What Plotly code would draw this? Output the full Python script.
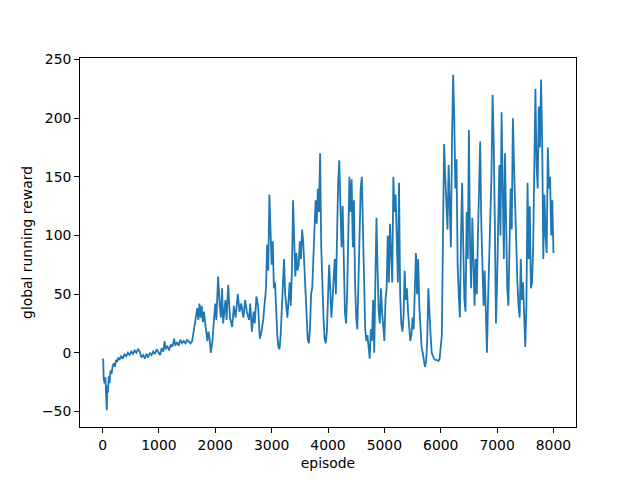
import plotly.graph_objects as go

# episode vs global running reward
episode = [
    0, 12, 20, 35, 50, 60, 75, 85, 95, 110, 125, 140, 160, 180, 200, 220, 240, 260, 280, 300,
    330, 360, 390, 420, 450, 480, 510, 540, 570, 600, 630, 660, 690, 720, 750, 780, 810, 840, 870, 900,
    930, 960, 990, 1020, 1050, 1080, 1100, 1120, 1150, 1180, 1210, 1240, 1270, 1290, 1320, 1350, 1380, 1410,
    1440, 1470, 1500, 1530, 1560, 1590, 1620, 1650,
    1680, 1700, 1720, 1740, 1760, 1780, 1800, 1830, 1860, 1880, 1900, 1920, 1950, 1980,
    2000, 2020, 2050, 2080, 2100, 2120, 2140, 2180, 2200, 2230, 2260, 2300, 2330, 2360, 2400, 2430, 2460,
    2500, 2530, 2560, 2600, 2620, 2650, 2680, 2700, 2730, 2760, 2790, 2820, 2850, 2880, 2900, 2920, 2940,
    2960, 2980, 3000, 3020, 3040, 3060, 3080, 3100, 3120, 3140, 3160, 3180, 3200, 3220, 3240, 3260, 3280,
    3300, 3320, 3340, 3360, 3380, 3400, 3420, 3440, 3460, 3480, 3500, 3520, 3540, 3560, 3580, 3600, 3620,
    3640, 3660, 3680, 3700, 3720, 3740, 3760, 3780, 3800, 3820, 3840, 3860, 3880, 3900, 3920, 3940, 3960,
    3980, 4000, 4020, 4040, 4060, 4080, 4100, 4120, 4140, 4160, 4180, 4200, 4220, 4240, 4260, 4280, 4300,
    4320, 4340, 4360, 4380, 4400, 4420, 4440, 4460, 4480, 4500, 4520, 4540, 4560, 4580, 4600, 4620, 4640,
    4660, 4680, 4700, 4720, 4740, 4760, 4780, 4800, 4820, 4840, 4860, 4880, 4900, 4920, 4940, 4960, 4980,
    5000, 5020, 5040, 5060, 5080, 5100, 5120, 5140, 5160, 5180, 5200, 5220, 5240, 5260, 5280, 5300, 5320,
    5340, 5360, 5380, 5400, 5420, 5440, 5460, 5480, 5500, 5520, 5540, 5560, 5580, 5600, 5620, 5640, 5660,
    5680, 5700, 5720, 5740, 5760, 5780, 5800, 5820, 5840, 5860, 5880, 5900, 5920, 5960, 5980, 6000, 6020,
    6040, 6060, 6080, 6100, 6120, 6140, 6160, 6180, 6200, 6220, 6240, 6260, 6280, 6300, 6320, 6340, 6360,
    6380, 6400, 6420, 6440, 6460, 6480, 6500, 6520, 6540, 6560, 6580, 6600, 6620, 6640, 6660, 6680, 6700,
    6720, 6740, 6760, 6780, 6800, 6820, 6840, 6860, 6880, 6900, 6920, 6940, 6960, 6980, 7000, 7020, 7040,
    7060, 7080, 7100, 7120, 7140, 7160, 7180, 7200, 7220, 7240, 7260, 7280, 7300, 7320, 7340, 7360, 7380,
    7400, 7420, 7440, 7460, 7480, 7500, 7520, 7540, 7560, 7580, 7600, 7620, 7640, 7660, 7680, 7700, 7720,
    7740, 7760, 7780, 7800, 7820, 7840, 7860, 7880, 7900, 7920, 7940, 7960, 7980, 8000,
]
reward = [
    -5, -6, -22, -26, -21, -30, -49, -28, -34, -20, -26, -15, -18, -11, -9, -12, -6, -8, -4, -6,
    -3, -5, -1, -3, 0, -2, 1, -1, 2, 0, 3, 1, -4, -2, -5, -1, -4, 0, -2, 1,
    -1, 3, 0, -2, 4, 1, 10, 3, 6, 2, 7, 5, 12, 6, 9, 6, 11, 8,
    10, 8, 11, 9, 8, 10, 19, 28,
    38, 28, 42, 30, 40, 26, 35, 22, 10, 18, 12, 0, 10, 30,
    42, 28, 65, 40, 30, 55, 25, 45, 28, 58, 30, 22, 40, 30, 50, 35, 42,
    30, 45, 35, 28, 42, 18, 35, 25, 48, 40, 12, 18, 28, 45, 55, 92, 70,
    135, 100, 75, 95, 55, 60, 30, 15, 5, 3, 15, 35, 55, 80, 50, 40, 30,
    45, 60, 40, 70, 130, 95, 65, 85, 70, 75, 95, 80, 105, 95, 75, 55, 30,
    12, 8, 20, 50, 55, 80, 100, 130, 110, 140, 120, 170, 90, 55, 30, 12, 8,
    18, 40, 75, 55, 30, 45, 65, 80, 50, 100, 145, 164, 115, 90, 125, 70, 35,
    25, 50, 100, 150, 120, 148, 90, 130, 60, 30, 20, 60, 100, 140, 150, 100, 60,
    20, 10, 15, 5, -5, 20, 10, 45, 0, 60, 115, 70, 35, 25, 55, 35, 20,
    10, 45, 55, 100, 60, 110, 90, 60, 150, 120, 135, 100, 60, 145, 50, 25, 18,
    30, 70, 45, 55, 35, 25, 10, 15, 30, 20, 45, 85, 50, 80, 40, 15, 5,
    0, -5, -12, -8, 10, 55, 30, 15, 0, -3, -5, -6, -6, -7, -5, 5, 15,
    100, 178, 150, 120, 105, 160, 120, 90, 180, 237, 200, 140, 165, 75, 50, 30, 100,
    145, 90, 45, 35, 120, 80, 190, 90, 55, 115, 60, 40, 80, 50, 100, 155, 180,
    110, 60, 40, 70, 30, 0, 45, 80, 130, 150, 220, 180, 110, 25, 60, 120, 160,
    100, 205, 140, 80, 170, 120, 55, 40, 90, 140, 105, 200, 160, 120, 80, 60, 40,
    30, 80, 45, 60, 25, 5, 40, 145, 80, 125, 55, 60, 90, 175, 225, 160, 140,
    210, 175, 233, 180, 80, 135, 100, 85, 175, 140, 150, 100, 130, 85,
]

x_ticks = [0, 1000, 2000, 3000, 4000, 5000, 6000, 7000, 8000]
y_ticks = [-50, 0, 50, 100, 150, 200, 250]

fig = go.Figure()
fig.add_trace(go.Scatter(x=episode, y=reward, mode='lines',
                         line=dict(color='#1f77b4', width=1.8)))

text_font = dict(family='DejaVu Sans', size=13.9, color='black')

axis_style = dict(
    showline=True, linecolor='black', linewidth=0.8, mirror=True,
    ticks='outside', ticklen=5, tickwidth=0.8, tickcolor='black',
    showgrid=False, zeroline=False, automargin=False,
    tickfont=text_font,
)

# the page body adds an 8px offset, so margins are shifted to compensate
fig.update_layout(
    width=640, height=480,
    margin=dict(l=72, r=72, t=50, b=61),
    paper_bgcolor='white', plot_bgcolor='white',
    showlegend=False,
    font=text_font,
    xaxis=dict(range=[-400, 8400], tickvals=x_ticks,
               ticktext=[str(v) for v in x_ticks],
               title=dict(text='episode', standoff=6, font=text_font), **axis_style),
    yaxis=dict(range=[-63.3, 251.3], tickvals=y_ticks,
               ticktext=[str(v).replace('-', '\u2212') for v in y_ticks],
               title=dict(text='global running reward', standoff=6, font=text_font), **axis_style),
)

fig.write_html("out.html")
